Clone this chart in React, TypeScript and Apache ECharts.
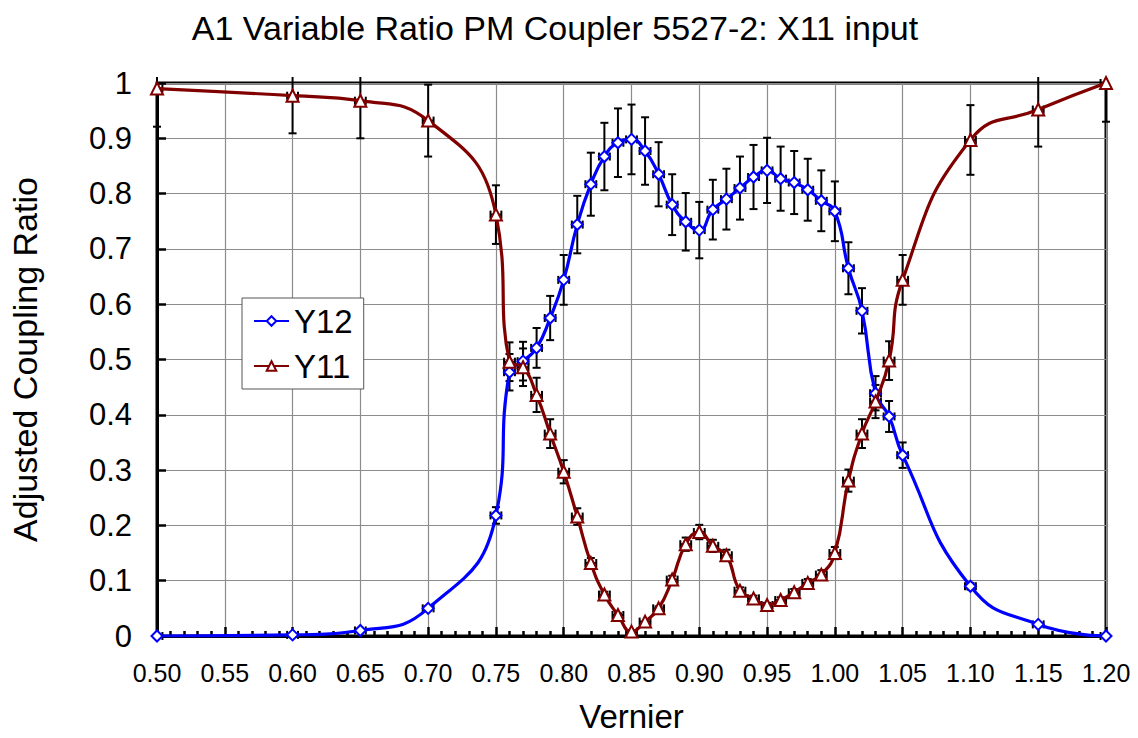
import React, { useEffect, useRef } from "react";
import * as echarts from "echarts";

const vernier = [
  0.5, 0.6, 0.65, 0.7, 0.75,
  0.76, 0.77, 0.78, 0.79, 0.8, 0.81, 0.82, 0.83, 0.84, 0.85,
  0.86, 0.87, 0.88, 0.89, 0.9, 0.91, 0.92, 0.93, 0.94, 0.95,
  0.96, 0.97, 0.98, 0.99, 1.0, 1.01, 1.02, 1.03, 1.04, 1.05,
  1.1, 1.15, 1.2,
];

const y12 = [
  0.0, 0.002, 0.01, 0.05, 0.218,
  0.477, 0.497, 0.521, 0.575, 0.644, 0.744, 0.817, 0.867, 0.892, 0.898,
  0.877, 0.835, 0.78, 0.749, 0.734, 0.771, 0.79, 0.81, 0.83, 0.842,
  0.827, 0.82, 0.807, 0.787, 0.768, 0.665, 0.588, 0.439, 0.397, 0.327,
  0.09, 0.021, 0.0,
];

const y11 = [
  0.99, 0.977, 0.968, 0.932, 0.762,
  0.496, 0.486, 0.436, 0.366, 0.297, 0.216, 0.132, 0.075, 0.038, 0.008,
  0.026, 0.05, 0.102, 0.166, 0.188, 0.163, 0.146, 0.082, 0.068, 0.056,
  0.065, 0.079, 0.096, 0.111, 0.15, 0.281, 0.366, 0.424, 0.498, 0.644,
  0.897, 0.952, 1.0,
];

const y12Err = [
  0.0, 0.0, 0.001, 0.004, 0.015,
  0.033, 0.035, 0.036, 0.04, 0.045, 0.052, 0.057, 0.061, 0.062, 0.063,
  0.061, 0.058, 0.055, 0.052, 0.051, 0.054, 0.055, 0.057, 0.058, 0.059,
  0.058, 0.057, 0.056, 0.055, 0.054, 0.047, 0.041, 0.031, 0.028, 0.023,
  0.006, 0.0015, 0.0,
];

const y11Err = [
  0.069, 0.068, 0.068, 0.065, 0.053,
  0.035, 0.034, 0.031, 0.026, 0.021, 0.015, 0.009, 0.005, 0.003, 0.0006,
  0.002, 0.0035, 0.007, 0.012, 0.013, 0.011, 0.01, 0.006, 0.005, 0.004,
  0.005, 0.006, 0.007, 0.008, 0.011, 0.02, 0.026, 0.03, 0.035, 0.045,
  0.063, 0.067, 0.07,
];

const xErr = 0.004;

const titleText = "A1 Variable Ratio PM Coupler 5527-2: X11 input";
const xName = "Vernier";
const yName = "Adjusted Coupling Ratio";
const seriesNames = ["Y12", "Y11"];

const FONT = "'Liberation Sans', Arial, Helvetica, sans-serif";

function errorBarRender(params: any, api: any) {
  const x = api.value(0);
  const y = api.value(1);
  const e = api.value(2);
  const c = api.coord([x, y]);
  const gridTop = api.coord([0.5, 1])[1];
  const gridBot = api.coord([0.5, 0])[1];
  const gridLeft = api.coord([0.5, 0])[0];
  const gridRight = api.coord([1.2, 0])[0];
  const style = { stroke: "#000", lineWidth: 2, fill: null };
  const children: any[] = [];
  const cap = 4;
  const line = (x1: number, y1: number, x2: number, y2: number) => ({
    type: "line",
    shape: { x1, y1, x2, y2 },
    style,
  });
  if (e > 0.002) {
    let t = api.coord([x, y + e])[1];
    let b = api.coord([x, y - e])[1];
    let capT = true;
    let capB = true;
    if (t < gridTop - 6) {
      t = gridTop - 6;
      capT = false;
    }
    if (b > gridBot) {
      b = gridBot;
      capB = false;
    }
    children.push(line(c[0], t, c[0], b));
    if (capT) children.push(line(c[0] - cap, t, c[0] + cap, t));
    if (capB) children.push(line(c[0] - cap, b, c[0] + cap, b));
  }
  let l = api.coord([x - xErr, y])[0];
  let r = api.coord([x + xErr, y])[0];
  let capL = true;
  let capR = true;
  if (l < gridLeft) {
    l = gridLeft;
    capL = false;
  }
  if (r > gridRight) {
    r = gridRight;
    capR = false;
  }
  children.push(line(l, c[1], r, c[1]));
  if (capL) children.push(line(l, c[1] - cap, l, c[1] + cap));
  if (capR) children.push(line(r, c[1] - cap, r, c[1] + cap));
  return { type: "group", children };
}

export default function App() {
  const ref = useRef<HTMLDivElement>(null);

  useEffect(() => {
    const chart = echarts.init(ref.current!, null, { renderer: "svg" });
    const d12 = vernier.map((v, i) => [v, y12[i]]);
    const d11 = vernier.map((v, i) => [v, y11[i]]);
    const e12 = vernier.map((v, i) => [v, y12[i], y12Err[i]]);
    const e11 = vernier.map((v, i) => [v, y11[i], y11Err[i]]);

    const option: any = {
      animation: false,
      backgroundColor: "#fff",
      textStyle: { fontFamily: FONT, color: "#000" },
      graphic: [
        {
          type: "text",
          x: 555,
          y: 28,
          style: {
            text: titleText,
            font: `34px ${FONT}`,
            fill: "#000",
            textAlign: "center",
            textVerticalAlign: "middle",
          },
        },
      ],
      grid: {
        left: 157,
        right: 32,
        top: 83,
        bottom: 97,
        show: true,
        borderColor: "#000",
        borderWidth: 3,
        backgroundColor: "transparent",
      },
      legend: {
        orient: "vertical",
        left: 242,
        top: 298,
        padding: [5, 11, 5, 11],
        itemGap: 9,
        itemWidth: 35,
        itemHeight: 12,
        borderColor: "#555",
        borderWidth: 1,
        backgroundColor: "#fff",
        borderRadius: 0,
        textStyle: { fontSize: 33, color: "#000", fontFamily: FONT, lineHeight: 36 },
        data: seriesNames,
        z: 10,
      },
      xAxis: {
        type: "value",
        min: 0.5,
        max: 1.2,
        interval: 0.05,
        name: xName,
        nameLocation: "middle",
        nameGap: 64,
        nameTextStyle: { fontSize: 33, color: "#000", fontFamily: FONT },
        axisLine: { show: true, onZero: false, lineStyle: { color: "#000", width: 3 } },
        axisTick: { show: true, inside: true, length: 9, lineStyle: { color: "#000", width: 2.5 } },
        minorTick: { show: true, splitNumber: 5, length: 5, lineStyle: { color: "#000", width: 2.5 } },
        axisLabel: {
          fontSize: 25,
          color: "#000",
          margin: 24,
          fontFamily: FONT,
          formatter: (v: number) => v.toFixed(2),
        },
        splitLine: { show: true, lineStyle: { color: "#8c8c8c", width: 1.2 } },
      },
      yAxis: {
        type: "value",
        min: 0,
        max: 1,
        interval: 0.1,
        name: yName,
        nameLocation: "middle",
        nameGap: 115,
        nameTextStyle: { fontSize: 34, color: "#000", fontFamily: FONT },
        axisLine: { show: true, onZero: false, lineStyle: { color: "#000", width: 3 } },
        axisTick: { show: true, inside: true, length: 9, lineStyle: { color: "#000", width: 2.5 } },
        axisLabel: {
          fontSize: 31,
          color: "#000",
          margin: 25,
          fontFamily: FONT,
          formatter: (v: number) => String(Math.round(v * 10) / 10),
        },
        splitLine: { show: true, lineStyle: { color: "#8c8c8c", width: 1.2 } },
      },
      series: [
        {
          type: "custom",
          name: "Y12 err",
          renderItem: errorBarRender,
          data: e12,
          z: 1,
          silent: true,
          encode: { x: 0, y: 1 },
        },
        {
          type: "custom",
          name: "Y11 err",
          renderItem: errorBarRender,
          data: e11,
          z: 1,
          silent: true,
          encode: { x: 0, y: 1 },
        },
        {
          type: "line",
          name: "Y12",
          data: d12,
          smooth: 0.5,
          symbol: "emptyDiamond",
          symbolSize: 11,
          showAllSymbol: true,
          color: "#0000ff",
          itemStyle: { color: "#0000ff", borderWidth: 2 },
          lineStyle: { color: "#0000ff", width: 3.2 },
          z: 3,
        },
        {
          type: "line",
          name: "Y11",
          data: d11,
          smooth: 0.5,
          symbol: "emptyTriangle",
          symbolSize: 12,
          showAllSymbol: true,
          color: "#800000",
          itemStyle: { color: "#800000", borderWidth: 2 },
          lineStyle: { color: "#800000", width: 3.2 },
          z: 4,
        },
      ],
    };
    chart.setOption(option);
    return () => chart.dispose();
  }, []);

  return (
    <div
      ref={ref}
      style={{ position: "absolute", left: 0, top: 0, width: 1138, height: 738 }}
    />
  );
}
